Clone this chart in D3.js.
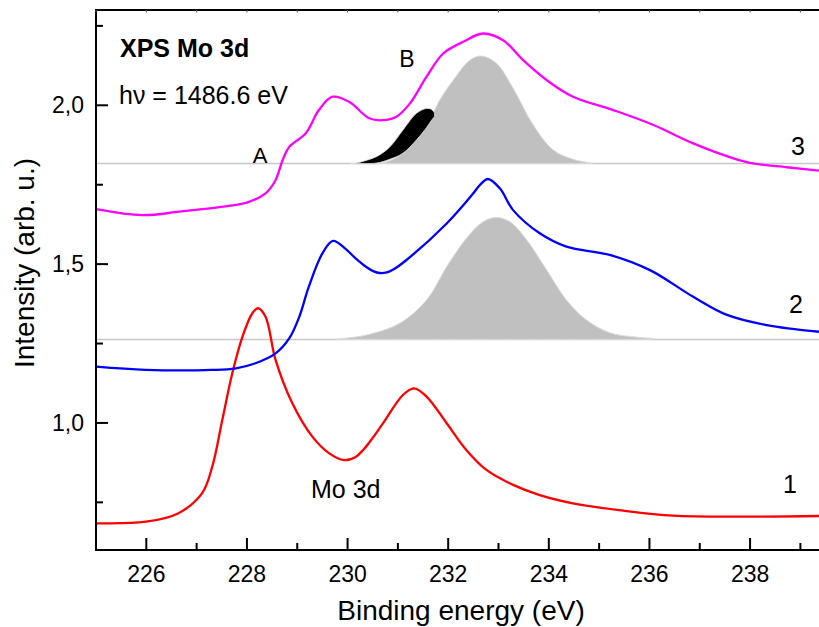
<!DOCTYPE html>
<html lang="en">
<head>
    <meta charset="UTF-8">
    <title>XPS Mo 3d</title>
    <script src="https://cdn.jsdelivr.net/npm/d3@7"></script>
    <style>
        body{
            margin: 0;
            background: white;
        }
        text{
            font-family: Arial, "Liberation Sans", sans-serif;
            fill: black;
        }
    </style>
</head>
<body>
<svg id="chart" width="819" height="627"></svg>
<script>
    // binding energy (eV) and intensity
    let energy1 = [225.0, 225.99, 226.64, 227.11, 227.31, 227.51, 227.71, 227.91, 228.11, 228.22, 228.37, 228.57, 228.9, 229.3, 229.63, 229.93, 230.16, 230.31, 230.5, 230.71, 231.1, 231.32, 231.57, 231.97, 232.36, 232.76, 233.29, 233.82, 234.48, 235.48, 236.47, 237.8, 239.37]
    let curve1 = [0.684, 0.689, 0.716, 0.779, 0.862, 1.009, 1.157, 1.271, 1.346, 1.361, 1.334, 1.198, 1.063, 0.957, 0.905, 0.883, 0.893, 0.915, 0.953, 1.0, 1.088, 1.109, 1.083, 0.999, 0.915, 0.852, 0.805, 0.773, 0.747, 0.724, 0.708, 0.705, 0.707]

    let energy2 = [225.0, 225.99, 227.31, 227.78, 228.17, 228.57, 228.84, 229.04, 229.23, 229.5, 229.71, 229.96, 230.16, 230.38, 230.52, 230.64, 230.78, 230.9, 231.17, 231.97, 232.5, 232.63, 232.79, 233.03, 233.29, 233.82, 234.35, 235.21, 236.01, 236.87, 237.54, 238.33, 239.37]
    let curve2 = [1.177, 1.167, 1.167, 1.172, 1.188, 1.219, 1.266, 1.334, 1.429, 1.534, 1.573, 1.548, 1.518, 1.49, 1.477, 1.472, 1.474, 1.482, 1.513, 1.628, 1.723, 1.749, 1.768, 1.738, 1.67, 1.597, 1.555, 1.529, 1.481, 1.397, 1.34, 1.308, 1.287]

    let energy3 = [225.0, 225.92, 226.65, 227.11, 227.64, 228.04, 228.37, 228.57, 228.71, 228.84, 229.17, 229.43, 229.7, 230.03, 230.43, 230.69, 230.97, 231.24, 231.57, 231.9, 232.3, 232.69, 233.09, 233.49, 233.96, 234.48, 235.28, 236.08, 236.87, 237.67, 238.06, 238.73, 239.37]
    let curve3 = [1.673, 1.654, 1.665, 1.673, 1.683, 1.696, 1.723, 1.765, 1.828, 1.869, 1.912, 1.985, 2.027, 2.011, 1.959, 1.953, 1.964, 2.006, 2.09, 2.163, 2.2, 2.226, 2.205, 2.142, 2.079, 2.027, 1.985, 1.938, 1.88, 1.833, 1.817, 1.805, 1.794]

    // background levels drawn as thin grey lines
    let baseline2 = 1.263
    let baseline3 = 1.817

    // grey fitted component under curve 2
    let peak2E = [229.78, 230.38, 231.04, 231.57, 231.97, 232.36, 232.69, 232.96, 233.23, 233.56, 233.96, 234.35, 234.75, 235.21, 235.68, 236.08]
    let peak2 = [1.264, 1.277, 1.314, 1.387, 1.492, 1.581, 1.633, 1.647, 1.633, 1.576, 1.481, 1.387, 1.324, 1.284, 1.271, 1.266]

    // grey fitted component under curve 3
    let peak3E = [230.04, 230.71, 231.1, 231.37, 231.63, 231.83, 232.1, 232.43, 232.66, 232.96, 233.29, 233.69, 234.09, 234.48, 234.88]
    let peak3 = [1.817, 1.819, 1.849, 1.891, 1.953, 2.016, 2.079, 2.142, 2.155, 2.132, 2.054, 1.938, 1.859, 1.83, 1.817]

    // black component B (top edge and lower edge on the grey flank)
    let peakBE = [230.18, 230.57, 230.84, 231.1, 231.37, 231.57, 231.67, 231.73]
    let peakBTop = [1.818, 1.838, 1.869, 1.922, 1.975, 1.99, 1.987, 1.975]
    let peakBBot = [1.817, 1.818, 1.83, 1.849, 1.891, 1.93, 1.953, 1.965]

    let xMajor = [226, 228, 230, 232, 234, 236, 238]
    let xMinor = [225, 227, 229, 231, 233, 235, 237, 239]
    let yMajor = [1.0, 1.5, 2.0]
    let yLabels = ["1,0", "1,5", "2,0"]
    let yMinor = [0.75, 1.25, 1.75, 2.25]

    let svg = d3.select("#chart")
    let pLeft = 96, pRight = 819, pTop = 10, pBottom = 550

    let x = d3.scaleLinear().domain([225, 239.37]).range([pLeft, pRight])
    let y = d3.scaleLinear().domain([0.6, 2.3]).range([pBottom, pTop])

    svg.append("clipPath").attr("id", "plotClip")
        .append("rect")
        .attr("x", pLeft).attr("y", pTop)
        .attr("width", pRight - pLeft).attr("height", pBottom - pTop)

    let plot = svg.append("g").attr("clip-path", "url(#plotClip)")

    // baselines
    plot.selectAll(".base")
        .data([baseline3, baseline2])
        .enter()
        .append("line")
        .attr("class", "base")
        .attr("x1", pLeft).attr("x2", pRight)
        .attr("y1", d => y(d)).attr("y2", d => y(d))
        .attr("stroke", "#c8c8c8")
        .attr("stroke-width", 1.5)

    function area(es, tops, base) {
        return d3.area()
            .x((d, i) => x(es[i]))
            .y0((d, i) => y(Array.isArray(base) ? base[i] : base))
            .y1((d, i) => y(tops[i]))
            .curve(d3.curveCatmullRom.alpha(0.5))(tops)
    }

    plot.append("path")
        .attr("d", area(peak2E, peak2, baseline2))
        .attr("fill", "#c0c0c0")
        .attr("stroke", "#dcdcdc")
        .attr("stroke-width", 1)
    plot.append("path")
        .attr("d", area(peak3E, peak3, baseline3))
        .attr("fill", "#c0c0c0")
        .attr("stroke", "#dcdcdc")
        .attr("stroke-width", 1)
    plot.append("path")
        .attr("d", area(peakBE, peakBTop, peakBBot))
        .attr("fill", "black")
        .attr("stroke", "#e0e0e0")
        .attr("stroke-width", 0.8)

    let series = [
        {e: energy1, v: curve1, color: "#ff0000"},
        {e: energy2, v: curve2, color: "#0000ff"},
        {e: energy3, v: curve3, color: "#ff00ff"}
    ]

    series.forEach(function (s) {
        let line = d3.line()
            .x((d, i) => x(s.e[i]))
            .y(d => y(d))
            .curve(d3.curveCatmullRom.alpha(0.5))
        plot.append("path")
            .attr("d", line(s.v))
            .attr("fill", "none")
            .attr("stroke", s.color)
            .attr("stroke-width", 2.3)
    })

    // axes
    let axes = svg.append("g").attr("stroke", "black").attr("stroke-width", 2)
    axes.append("line").attr("x1", pLeft).attr("x2", pRight).attr("y1", pBottom).attr("y2", pBottom)
    axes.append("line").attr("x1", pLeft).attr("x2", pLeft).attr("y1", pTop - 1).attr("y2", pBottom + 1)
    axes.append("line").attr("x1", pLeft).attr("x2", pRight).attr("y1", pTop).attr("y2", pTop)

    axes.selectAll(".xmaj").data(xMajor).enter().append("line")
        .attr("x1", d => x(d)).attr("x2", d => x(d))
        .attr("y1", pBottom).attr("y2", pBottom - 12)
    axes.selectAll(".xmin").data(xMinor).enter().append("line")
        .attr("x1", d => x(d)).attr("x2", d => x(d))
        .attr("y1", pBottom).attr("y2", pBottom - 7)
    axes.selectAll(".ymaj").data(yMajor).enter().append("line")
        .attr("x1", pLeft).attr("x2", pLeft + 12)
        .attr("y1", d => y(d)).attr("y2", d => y(d))
    axes.selectAll(".ymin").data(yMinor).enter().append("line")
        .attr("x1", pLeft).attr("x2", pLeft + 7)
        .attr("y1", d => y(d)).attr("y2", d => y(d))
    // tiny ticks on the top frame
    svg.selectAll(".xtop").data(xMajor.concat(xMinor)).enter().append("line")
        .attr("x1", d => x(d)).attr("x2", d => x(d))
        .attr("y1", pTop).attr("y2", pTop + 2.5)
        .attr("stroke", "#555").attr("stroke-width", 1)

    svg.selectAll(".xlab").data(xMajor).enter().append("text")
        .attr("x", d => x(d)).attr("y", 582)
        .attr("text-anchor", "middle")
        .style("font-size", "23px")
        .text(d => d)
    svg.selectAll(".ylab").data(yMajor).enter().append("text")
        .attr("x", 84).attr("y", d => y(d) + 8)
        .attr("text-anchor", "end")
        .style("font-size", "23px")
        .text((d, i) => yLabels[i])

    svg.append("text")
        .attr("x", 461).attr("y", 620)
        .attr("text-anchor", "middle")
        .style("font-size", "28px")
        .text("Binding energy (eV)")
    svg.append("text")
        .attr("transform", "translate(34,263) rotate(-90)")
        .attr("text-anchor", "middle")
        .style("font-size", "28px")
        .text("Intensity (arb. u.)")

    // annotations
    let notes = [
        {t: "XPS Mo 3d", x: 120, y: 57, size: 25, bold: true, anchor: "start"},
        {t: "h\u03bd = 1486.6 eV", x: 119, y: 104, size: 25, bold: false, anchor: "start"},
        {t: "A", x: 260, y: 163, size: 22, bold: false, anchor: "middle"},
        {t: "B", x: 407, y: 67, size: 23, bold: false, anchor: "middle"},
        {t: "Mo 3d", x: 311, y: 498, size: 25, bold: false, anchor: "start"},
        {t: "3", x: 798, y: 155, size: 25, bold: false, anchor: "middle"},
        {t: "2", x: 796, y: 313, size: 25, bold: false, anchor: "middle"},
        {t: "1", x: 790, y: 493, size: 25, bold: false, anchor: "middle"}
    ]
    svg.selectAll(".note").data(notes).enter().append("text")
        .attr("x", d => d.x).attr("y", d => d.y)
        .attr("text-anchor", d => d.anchor)
        .style("font-size", d => d.size + "px")
        .style("font-weight", d => d.bold ? "bold" : "normal")
        .text(d => d.t)
</script>
</body>
</html>
